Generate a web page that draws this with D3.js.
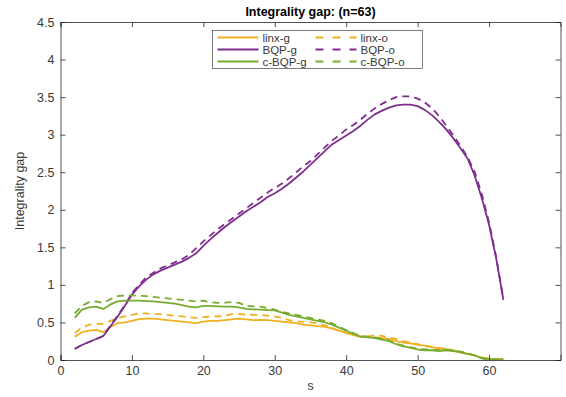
<!DOCTYPE html>
<html>
<head>
<meta charset="utf-8">
<script src="https://cdn.jsdelivr.net/npm/d3@7"></script>
<style>
  html, body { margin: 0; padding: 0; background: #fff; }
  svg { display: block; font-family: "Liberation Sans", Arial, Helvetica, sans-serif; }
</style>
</head>
<body>
<svg id="chart" width="566" height="397"></svg>
<script>
// Subset size s
const sizes = d3.range(2, 63);

// Integrality gap per method (g = greedy rounding, o = optimal)
const linxG = [0.31,0.37,0.39,0.40,0.37,0.44,0.49,0.50,0.52,0.545,0.55,0.55,0.54,0.53,0.52,0.51,0.50,0.49,0.51,0.52,0.52,0.53,0.54,0.55,0.54,0.53,0.535,0.53,0.52,0.51,0.50,0.49,0.47,0.46,0.45,0.44,0.42,0.39,0.36,0.33,0.31,0.31,0.30,0.29,0.28,0.25,0.23,0.22,0.20,0.19,0.17,0.155,0.14,0.12,0.10,0.08,0.06,0.03,0.015,0.01,0.01];
const linxO = [0.36,0.43,0.47,0.48,0.48,0.52,0.56,0.58,0.60,0.62,0.62,0.61,0.61,0.60,0.59,0.58,0.57,0.56,0.57,0.58,0.58,0.59,0.61,0.61,0.605,0.60,0.60,0.59,0.58,0.56,0.53,0.51,0.51,0.50,0.49,0.46,0.43,0.39,0.36,0.33,0.31,0.31,0.33,0.32,0.30,0.28,0.25,0.23,0.21,0.19,0.17,0.16,0.15,0.13,0.10,0.08,0.06,0.03,0.02,0.015,0.01];
const bqpG = [0.15,0.20,0.24,0.28,0.32,0.45,0.58,0.72,0.87,0.98,1.07,1.14,1.19,1.23,1.27,1.31,1.36,1.42,1.52,1.61,1.69,1.77,1.84,1.91,1.98,2.04,2.10,2.17,2.22,2.28,2.35,2.43,2.51,2.60,2.69,2.78,2.87,2.93,2.99,3.05,3.12,3.20,3.27,3.32,3.36,3.39,3.40,3.40,3.38,3.33,3.26,3.17,3.07,2.95,2.82,2.68,2.45,2.15,1.80,1.35,0.80];
const bqpO = [0.15,0.20,0.24,0.28,0.32,0.46,0.59,0.73,0.89,1.00,1.10,1.16,1.22,1.26,1.30,1.34,1.40,1.49,1.58,1.66,1.74,1.81,1.88,1.95,2.02,2.09,2.16,2.23,2.29,2.35,2.42,2.50,2.58,2.65,2.74,2.83,2.92,2.99,3.07,3.13,3.20,3.28,3.35,3.41,3.46,3.50,3.51,3.51,3.48,3.43,3.35,3.25,3.12,2.99,2.85,2.70,2.50,2.20,1.83,1.37,0.82];
const cbqpG = [0.56,0.67,0.70,0.71,0.68,0.74,0.78,0.79,0.79,0.79,0.785,0.78,0.77,0.76,0.75,0.73,0.71,0.70,0.72,0.72,0.715,0.71,0.71,0.70,0.68,0.675,0.67,0.665,0.66,0.63,0.60,0.58,0.56,0.54,0.52,0.50,0.47,0.43,0.39,0.35,0.31,0.30,0.29,0.27,0.25,0.21,0.18,0.16,0.14,0.13,0.13,0.12,0.13,0.12,0.10,0.08,0.06,0.02,0.005,0.005,0.005];
const cbqpO = [0.62,0.72,0.77,0.78,0.76,0.81,0.85,0.86,0.86,0.855,0.85,0.84,0.83,0.82,0.81,0.80,0.79,0.78,0.79,0.77,0.76,0.765,0.77,0.76,0.72,0.715,0.71,0.69,0.67,0.64,0.62,0.60,0.58,0.56,0.54,0.52,0.49,0.44,0.40,0.36,0.32,0.31,0.30,0.28,0.26,0.22,0.19,0.17,0.15,0.14,0.14,0.13,0.14,0.13,0.11,0.09,0.06,0.03,0.01,0.01,0.01];

const xTicks = [0, 10, 20, 30, 40, 50, 60];
const yTicks = [0, 0.5, 1, 1.5, 2, 2.5, 3, 3.5, 4, 4.5];

const series = [
  { name: "linx-g",   values: linxG, color: "#EDB120", dashed: false },
  { name: "linx-o",   values: linxO, color: "#EDB120", dashed: true },
  { name: "BQP-g",    values: bqpG,  color: "#7E2F8E", dashed: false },
  { name: "BQP-o",    values: bqpO,  color: "#7E2F8E", dashed: true },
  { name: "c-BQP-g",  values: cbqpG, color: "#77AC30", dashed: false },
  { name: "c-BQP-o",  values: cbqpO, color: "#77AC30", dashed: true }
];

const margin = { left: 60.5, right: 5.5, top: 22, bottom: 37 };
const W = 566, H = 397;
const svg = d3.select("#chart");
const axisColor = "#262626";
const labelColor = "#3a3a3a";
const dash = "7,5";
const lineW = 1.8;

const x = d3.scaleLinear().domain([0, 70]).range([margin.left, W - margin.right]);
const y = d3.scaleLinear().domain([0, 4.5]).range([H - margin.bottom, margin.top]);

// Series lines, clipped to plot area
svg.append("clipPath").attr("id", "plotclip")
  .append("rect")
  .attr("x", x(0)).attr("y", y(4.5))
  .attr("width", x(70) - x(0)).attr("height", y(0) - y(4.5));

const line = d3.line()
  .x((d, i) => x(sizes[i]))
  .y(d => y(d));

const lines = svg.append("g").attr("clip-path", "url(#plotclip)");
series.forEach(s => {
  lines.append("path")
    .datum(s.values)
    .attr("d", line)
    .attr("fill", "none")
    .attr("stroke", s.color)
    .attr("stroke-width", lineW)
    .attr("stroke-linejoin", "round")
    .attr("stroke-dasharray", s.dashed ? dash : null);
});

// Axes (ticks pointing inward, box with mirrored ticks)
const tickLen = 5;
const bottomAxis = d3.axisBottom(x).tickValues(xTicks).tickSize(-tickLen).tickPadding(6).tickFormat(d3.format("d"));
const topAxis = d3.axisTop(x).tickValues(xTicks).tickSize(-tickLen).tickFormat("");
const leftAxis = d3.axisLeft(y).tickValues(yTicks).tickSize(-tickLen).tickPadding(6).tickFormat(d => d3.format("")(d));
const rightAxis = d3.axisRight(y).tickValues(yTicks).tickSize(-tickLen).tickFormat("");

function styleAxis(g) {
  g.select(".domain").attr("stroke", axisColor).attr("stroke-width", 0.8);
  g.selectAll(".tick line").attr("stroke", axisColor).attr("stroke-width", 0.8);
  g.selectAll(".tick text").attr("fill", labelColor).attr("font-size", 12.5)
    .attr("font-family", "'Liberation Sans', Arial, sans-serif");
}

svg.append("g").attr("transform", `translate(0,${y(0)})`).call(bottomAxis).call(styleAxis);
svg.append("g").attr("transform", `translate(0,${y(4.5)})`).call(topAxis).call(styleAxis);
svg.append("g").attr("transform", `translate(${x(0)},0)`).call(leftAxis).call(styleAxis);
svg.append("g").attr("transform", `translate(${x(70)},0)`).call(rightAxis).call(styleAxis);

// Axis labels and title
svg.append("text")
  .attr("x", (x(0) + x(70)) / 2).attr("y", 390)
  .attr("text-anchor", "middle").attr("font-size", 13).attr("fill", labelColor)
  .text("s");

svg.append("text")
  .attr("transform", `translate(24,${(y(0) + y(4.5)) / 2}) rotate(-90)`)
  .attr("text-anchor", "middle").attr("font-size", 12.5).attr("fill", labelColor)
  .text("Integrality gap");

svg.append("text")
  .attr("x", (x(0) + x(70)) / 2).attr("y", 16)
  .attr("text-anchor", "middle").attr("font-size", 12.5).attr("font-weight", "bold")
  .attr("fill", "#000")
  .text("Integrality gap: (n=63)");

// Legend: two columns (g solid / o dashed), three rows
const legend = svg.append("g").attr("transform", "translate(212.5,30.5)");
legend.append("rect")
  .attr("width", 210).attr("height", 38)
  .attr("fill", "#fff").attr("stroke", axisColor).attr("stroke-width", 0.6);

series.forEach((s, i) => {
  const col = i % 2, row = Math.floor(i / 2);
  const gx = col === 0 ? 5 : 103;
  const gy = 7 + row * 12;
  legend.append("line")
    .attr("x1", gx).attr("x2", gx + 41).attr("y1", gy).attr("y2", gy)
    .attr("stroke", s.color).attr("stroke-width", lineW)
    .attr("stroke-dasharray", s.dashed ? "8,9" : null);
  legend.append("text")
    .attr("x", gx + 45).attr("y", gy + 4)
    .attr("font-size", 11.5).attr("fill", labelColor)
    .text(s.name);
});
</script>
</body>
</html>
